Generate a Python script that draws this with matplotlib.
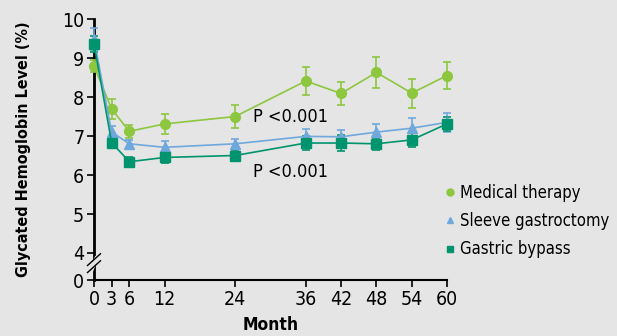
import matplotlib.pyplot as plt
from matplotlib.lines import Line2D

plt.rcParams['font.family'] = ['DejaVu Sans']
plt.rcParams['font.stretch'] = 'condensed'

months = [0, 3, 6, 12, 24, 36, 42, 48, 54, 60]

medical = [8.80, 7.69, 7.12, 7.31, 7.50, 8.41, 8.09, 8.63, 8.10, 8.55]
medical_err = [0.15, 0.25, 0.17, 0.25, 0.30, 0.36, 0.30, 0.40, 0.37, 0.35]

sleeve = [9.48, 7.10, 6.80, 6.71, 6.80, 6.99, 6.98, 7.10, 7.20, 7.35]
sleeve_err = [0.30, 0.15, 0.10, 0.15, 0.13, 0.18, 0.18, 0.20, 0.25, 0.25]

bypass = [9.36, 6.83, 6.34, 6.45, 6.50, 6.82, 6.82, 6.80, 6.90, 7.31]
bypass_err = [0.20, 0.15, 0.12, 0.13, 0.15, 0.17, 0.20, 0.15, 0.17, 0.17]

bg = '#e5e5e5'
fig = plt.figure(figsize=(6.17, 3.36), dpi=100, facecolor=bg)
ax = fig.add_axes([94 / 617, 1 - 280 / 336, 353 / 617, 261 / 336], facecolor=bg)

# broken axis: the "0" sits just below 4
zero_pos = 4 - 27 / 39

series = [
    ('Medical therapy', medical, medical_err, '#8dc63f', 'o'),
    ('Sleeve gastroctomy', sleeve, sleeve_err, '#6fa8dc', '^'),
    ('Gastric bypass', bypass, bypass_err, '#00946e', 's'),
]
handles = []
for name, vals, err, col, mk in series:
    ax.errorbar(months, vals, yerr=err, color=col, marker=mk, markersize=7,
                linewidth=1.2, elinewidth=1.2, capsize=3, capthick=1.2,
                clip_on=False, zorder=3)
    handles.append(Line2D([], [], color=col, marker=mk, linestyle='none',
                          markersize=5, label=name))

ax.set_xlim(0, 60)
ax.set_ylim(zero_pos, 10)
ax.set_xticks(months)
ax.set_yticks([zero_pos, 4, 5, 6, 7, 8, 9, 10])
ax.set_yticklabels(['0', '4', '5', '6', '7', '8', '9', '10'])
ax.tick_params(labelsize=14, length=5, width=1.2, pad=2)

for s in ['top', 'right']:
    ax.spines[s].set_visible(False)
ax.spines['left'].set_linewidth(2)
ax.spines['bottom'].set_linewidth(1.5)

# break marks on the y axis
ax.plot([-0.4, 0.4], [3.58, 3.86], color=bg, lw=3, clip_on=False, zorder=4)
for dy in (0, 0.18):
    ax.plot([-1.1, 1.1], [3.5 + dy, 3.8 + dy], color='black', lw=1,
            clip_on=False, zorder=5)

ax.set_xlabel('Month', fontsize=12.5, fontweight='bold', labelpad=5)
ax.set_ylabel('Glycated Hemoglobin Level (%)', fontsize=11.5, fontweight='bold', labelpad=22)

ax.text(27, 7.49, 'P <0.001', fontsize=13, va='center')
ax.text(27, 6.08, 'P <0.001', fontsize=13, va='center')

ax.legend(handles=handles, loc='upper left', bbox_to_anchor=(438 / 617, 1 - 177 / 336),
          bbox_transform=fig.transFigure, frameon=False, fontsize=12,
          handlelength=0.6, handletextpad=0.3, labelspacing=0.62, borderaxespad=0)

fig.savefig('out.png', dpi=100, facecolor=bg)
